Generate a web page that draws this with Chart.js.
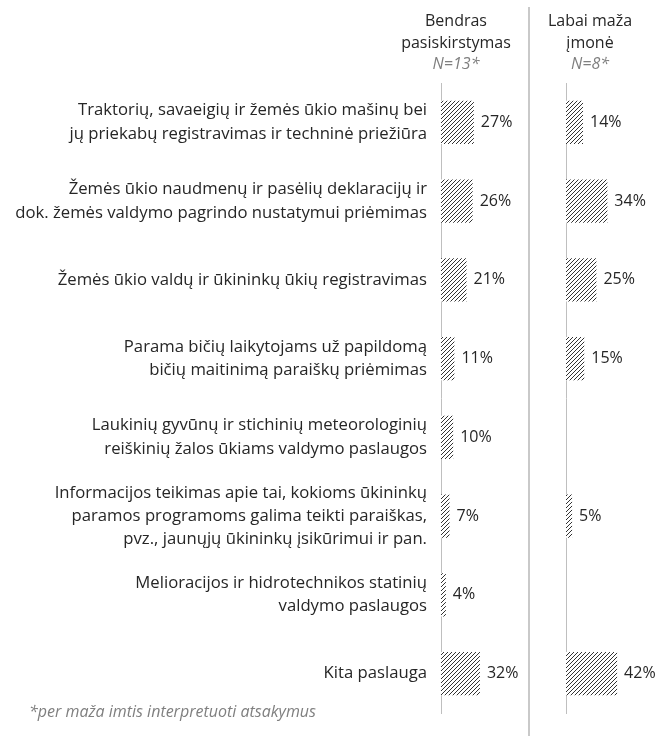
<!DOCTYPE html>
<html>
<head>
<meta charset="utf-8">
<script src="https://cdn.jsdelivr.net/npm/chart.js@4"></script>
<style>
  body { margin: 0; background: #fff; font-family: "Open Sans", sans-serif; }
  #wrap { position: relative; width: 657px; height: 736px; overflow: hidden; }
  #left { position: absolute; left: 0; top: 0; }
  #right { position: absolute; left: 530px; top: 0; }
  .head { position: absolute; top: 10px; text-align: center; font-size: 16px; line-height: 21.5px; color: #262626; }
  .head i { color: #7f7f7f; }
  #divider { position: absolute; left: 528px; top: 7px; width: 2px; height: 729px; background: #c9c9c9; }
  #note { position: absolute; left: 29px; top: 700px; font-size: 16px; line-height: 22px; font-style: italic; color: #7f7f7f; }
</style>
</head>
<body>
<div id="wrap">
  <canvas id="left" width="529" height="736"></canvas>
  <canvas id="right" width="127" height="736"></canvas>
  <div id="divider"></div>
  <div class="head" style="left:386px;width:140px">Bendras<br>pasiskirstymas<br><i>N=13*</i></div>
  <div class="head" style="left:535px;width:110px">Labai maža<br>įmonė<br><i>N=8*</i></div>
  <div id="note">*per maža imtis interpretuoti atsakymus</div>
</div>
<script>
var categories = [
  ["Traktorių, savaeigių ir žemės ūkio mašinų bei", "jų priekabų registravimas ir techninė priežiūra"],
  ["Žemės ūkio naudmenų ir pasėlių deklaracijų ir", "dok. žemės valdymo pagrindo nustatymui priėmimas"],
  "Žemės ūkio valdų ir ūkininkų ūkių registravimas",
  ["Parama bičių laikytojams už papildomą", "bičių maitinimą paraiškų priėmimas"],
  ["Laukinių gyvūnų ir stichinių meteorologinių", "reiškinių žalos ūkiams valdymo paslaugos"],
  ["Informacijos teikimas apie tai, kokioms ūkininkų", "paramos programoms galima teikti paraiškas,", "pvz., jaunųjų ūkininkų įsikūrimui ir pan."],
  ["Melioracijos ir hidrotechnikos statinių", "valdymo paslaugos"],
  "Kita paslauga"
];
var bendras = [27, 26, 21, 11, 10, 7, 4, 32];
var labaiMaza = [14, 34, 25, 15, null, 5, null, 42];

function hatch() {
  var c = document.createElement("canvas");
  c.width = 4; c.height = 4;
  var g = c.getContext("2d");
  g.fillStyle = "#fff";
  g.fillRect(0, 0, 4, 4);
  g.strokeStyle = "#333";
  g.lineWidth = 1;
  g.beginPath();
  g.moveTo(-1, 5); g.lineTo(5, -1);
  g.moveTo(-1, 1); g.lineTo(1, -1);
  g.moveTo(3, 5); g.lineTo(5, 3);
  g.stroke();
  return g.createPattern(c, "repeat");
}

var valueLabels = {
  id: "valueLabels",
  afterDatasetsDraw: function(chart) {
    var ctx = chart.ctx;
    var ds = chart.data.datasets[0];
    ctx.save();
    ctx.font = "16px 'Open Sans', sans-serif";
    ctx.fillStyle = "#262626";
    ctx.textBaseline = "middle";
    chart.getDatasetMeta(0).data.forEach(function(bar, i) {
      if (ds.data[i] == null) return;
      ctx.fillText(ds.data[i] + "%", bar.x + 7, bar.y);
    });
    ctx.restore();
  }
};

function makeChart(id, values, axisWidth, showLabels, padRight) {
  return new Chart(document.getElementById(id).getContext("2d"), {
    type: "bar",
    data: {
      labels: categories,
      datasets: [{
        data: values,
        backgroundColor: hatch(),
        borderWidth: 0,
        barPercentage: 0.55,
        categoryPercentage: 1
      }]
    },
    options: {
      indexAxis: "y",
      responsive: false,
      animation: false,
      layout: { padding: { top: 83, bottom: 23, left: 0, right: padRight } },
      plugins: { legend: { display: false }, tooltip: { enabled: false } },
      scales: {
        x: { display: false, min: 0, max: 60 },
        y: {
          afterFit: function(scale) {
            scale.width = axisWidth;
            scale.paddingTop = 0;
            scale.paddingBottom = 0;
          },
          grid: { display: false, drawTicks: false },
          border: { display: true, color: "#bfbfbf", width: 1 },
          ticks: {
            display: showLabels,
            padding: 14,
            color: "#262626",
            font: { family: "'Open Sans', sans-serif", size: 16.7, lineHeight: 1.4 }
          }
        }
      }
    },
    plugins: [valueLabels]
  });
}

makeChart("left", bendras, 441, true, 15);
makeChart("right", labaiMaza, 36, false, 18);
</script>
</body>
</html>
